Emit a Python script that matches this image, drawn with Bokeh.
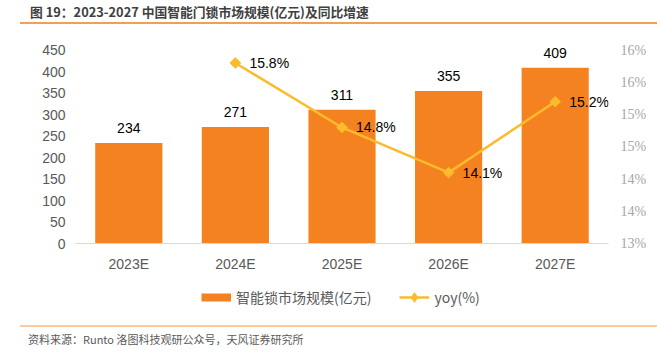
import math
from bokeh.plotting import figure
from bokeh.layouts import column
from bokeh.models import (ColumnDataSource, Range1d, FactorRange, LinearAxis, FixedTicker,
                          CustomJSTickFormatter, Legend, LegendItem, Div)
from bokeh.core.properties import value
from bokeh.embed import file_html
from bokeh.resources import INLINE

# ---- data ----
years = ["2023E", "2024E", "2025E", "2026E", "2027E"]
market = [234, 271, 311, 355, 409]
yoy_years = ["2024E", "2025E", "2026E", "2027E"]
yoy = [15.8, 14.8, 14.1, 15.2]
left_ticks = [0, 50, 100, 150, 200, 250, 300, 350, 400, 450]
right_ticks = [13.0, 13.5, 14.0, 14.5, 15.0, 15.5, 16.0]
title_text = "图 19：2023-2027 中国智能门锁市场规模(亿元)及同比增速"
source_text = "资料来源：Runto 洛图科技观研公众号，天风证券研究所"
bar_name = "智能锁市场规模(亿元)"
line_name = "yoy(%)"

BAR = "#F58220"
LINE = "#FBBB2B"
NUM_FONT = "Liberation Sans"
CJK = "Noto Sans CJK SC"
W = 657
LEFT_B, RIGHT_B = 75, 49

# ---- header (title + orange rule) ----
head = Div(width=W, height=30, margin=0, text=(
    '<div style="position:relative;width:%dpx;height:30px;">'
    '<div style="position:absolute;left:30px;top:3px;line-height:18px;white-space:nowrap;'
    'font-family:\'%s\';font-size:12.8px;font-weight:bold;color:#404040;">%s</div>'
    '<div style="position:absolute;left:20px;right:0;top:22px;height:2px;'
    'background:#F0A050;"></div></div>') % (W, CJK, title_text))

# ---- main chart ----
bar_src = ColumnDataSource(dict(x=years, y=market, t=[str(v) for v in market]))
yoy_src = ColumnDataSource(dict(x=yoy_years, y=yoy, t=["%.1f%%" % v for v in yoy]))

YMAX = 470
p = figure(width=W, height=245, x_range=FactorRange(factors=years, range_padding=0),
           y_range=Range1d(0, YMAX), output_backend="svg", toolbar_location=None,
           min_border_left=LEFT_B, min_border_right=RIGHT_B, min_border_top=11,
           min_border_bottom=32)
p.outline_line_color = None
p.grid.visible = False
p.background_fill_color = "white"
p.border_fill_color = "white"
p.extra_y_ranges = {"yoy": Range1d(13.0, 13.0 + 3.0 * YMAX / 450.0)}

p.vbar(x="x", top="y", width=0.63, source=bar_src, fill_color=BAR, line_color=None)
p.text(x="x", y="y", text="t", source=bar_src, text_align="center", text_baseline="middle",
       y_offset=-15, text_font=value(NUM_FONT), text_font_size="14px", text_color="#000000")

lr = p.line(x="x", y="y", source=yoy_src, y_range_name="yoy", line_color=LINE, line_width=2.5)
sr = p.scatter(x="x", y="y", source=yoy_src, y_range_name="yoy", marker="square", size=7.5,
               angle=math.pi / 4, fill_color=LINE, line_color=LINE)
p.text(x="x", y="y", text="t", source=yoy_src, y_range_name="yoy", text_align="left",
       text_baseline="middle", x_offset=14, text_font=value(NUM_FONT), text_font_size="14px",
       text_color="#000000")

xa = p.xaxis[0]
xa.axis_line_color = "#D9D9D9"
xa.major_tick_line_color = None
xa.minor_tick_line_color = None
xa.major_tick_out = 0
xa.major_tick_in = 0
xa.major_label_text_font = NUM_FONT
xa.major_label_text_font_size = "14px"
xa.major_label_text_color = "#595959"
xa.major_label_standoff = 12

ya = p.yaxis[0]
ya.ticker = FixedTicker(ticks=left_ticks)
ya.axis_line_color = None
ya.major_tick_line_color = None
ya.minor_tick_line_color = None
ya.major_tick_out = 0
ya.major_tick_in = 0
ya.major_label_text_font = NUM_FONT
ya.major_label_text_font_size = "14px"
ya.major_label_text_color = "#595959"
ya.major_label_standoff = 10

ra = LinearAxis(y_range_name="yoy", ticker=FixedTicker(ticks=right_ticks),
                formatter=CustomJSTickFormatter(code="return Math.round(tick) + '%';"))
ra.axis_line_color = None
ra.major_tick_line_color = None
ra.minor_tick_line_color = None
ra.major_tick_out = 0
ra.major_tick_in = 0
ra.major_label_text_font = "Liberation Sans Narrow"
ra.major_label_text_font_size = "14px"
ra.major_label_text_color = "#A6A6A6"
ra.major_label_standoff = 12
p.add_layout(ra, "right")

# ---- legend strip ----
nan = float("nan")
leg = figure(width=W, height=40, x_range=Range1d(0, 1), y_range=Range1d(0, 1),
             output_backend="svg", toolbar_location=None, x_axis_location=None,
             y_axis_location=None, min_border_left=LEFT_B, min_border_right=RIGHT_B,
             min_border_top=0, min_border_bottom=0)
leg.outline_line_color = None
leg.grid.visible = False
leg.border_fill_color = "white"
sw_bar = leg.line(x=[nan], y=[nan], line_color=BAR, line_width=8)
sw_line = leg.line(x=[nan], y=[nan], line_color=LINE, line_width=2.5)
sw_mark = leg.scatter(x=[nan], y=[nan], marker="diamond", size=10,
                      fill_color=LINE, line_color=LINE)
legend = Legend(items=[LegendItem(label=bar_name, renderers=[sw_bar]),
                       LegendItem(label=line_name, renderers=[sw_line, sw_mark])],
                orientation="horizontal", location=(126, 6),
                glyph_width=30, glyph_height=24, label_standoff=5, spacing=28,
                label_text_font=CJK, label_text_font_size="14px", label_text_color="#595959",
                border_line_color=None, background_fill_alpha=0, padding=4, margin=0)
leg.add_layout(legend, "center")

# ---- footer (rule + source) ----
foot = Div(width=W, height=46, margin=0, text=(
    '<div style="position:relative;width:%dpx;height:46px;">'
    '<div style="position:absolute;left:20px;right:0;top:10px;height:2px;'
    'background:#FBCB9A;"></div>'
    '<div style="position:absolute;left:28px;top:16px;line-height:16px;white-space:nowrap;'
    'font-family:\'%s\';font-size:11px;color:#595959;">%s</div></div>') % (W, CJK, source_text))

layout = column(head, p, leg, foot, spacing=0)
open("out.html", "w").write(file_html(layout, INLINE))
